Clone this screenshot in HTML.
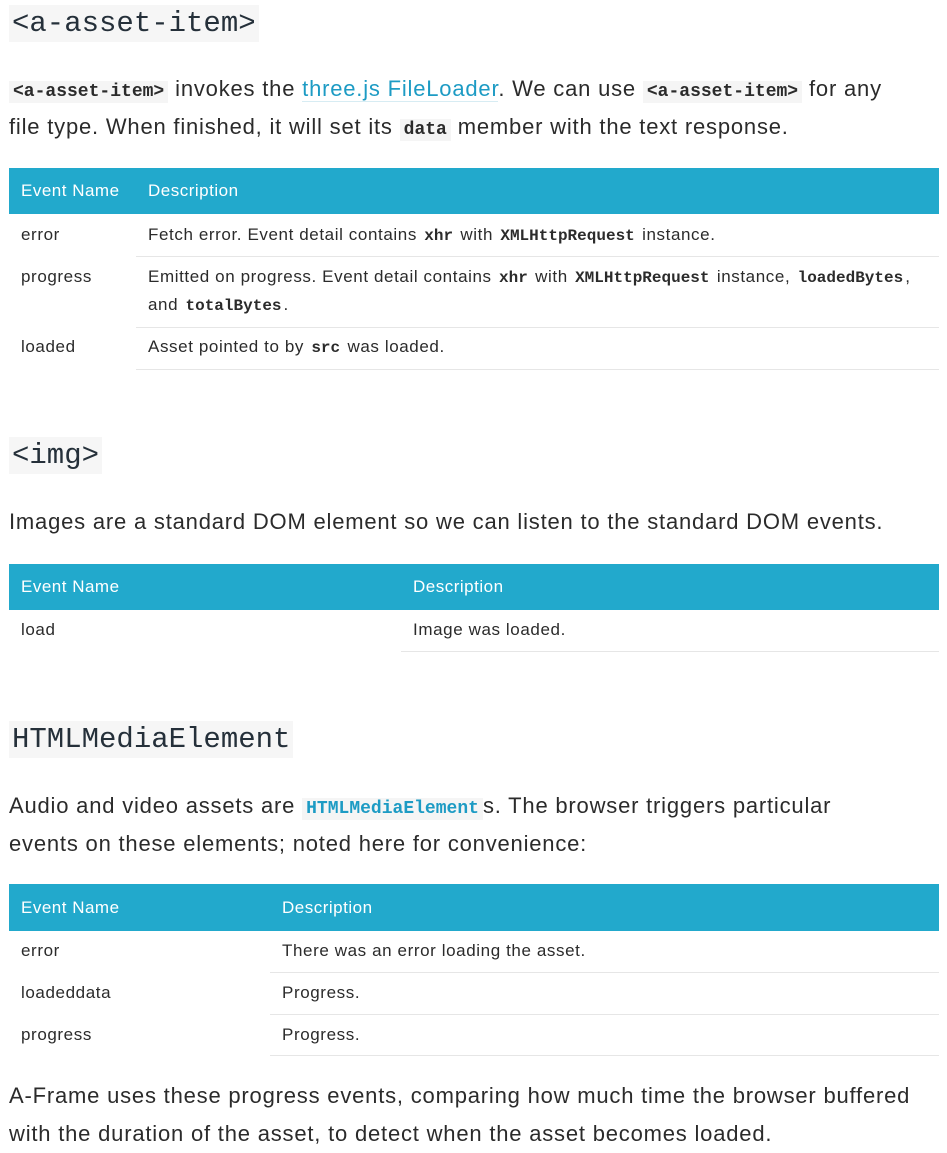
<!DOCTYPE html>
<html><head><meta charset="utf-8"><style>
body{margin:0;width:947px;height:1153px;background:#fff;position:relative;font-family:"Liberation Sans",sans-serif;color:#2b2b2b;overflow:hidden}
.a{position:absolute;white-space:nowrap}
.h{font-family:"Liberation Mono",monospace;font-size:29px;background:#f6f6f6;color:#25303a;padding:0 3px;line-height:37px;letter-spacing:0}
.p{font-size:22px;line-height:38px;letter-spacing:0.8px}
code{font-family:"Liberation Mono",monospace;font-weight:bold;background:#f5f5f5;padding:1px 4px;font-size:18px;letter-spacing:0}
.c code{font-size:16px;background:none;padding:0 2px}
.th{position:absolute;left:9px;width:930px;background:#22a9cc;color:#fff;font-size:17px;letter-spacing:0.5px}
.c{position:absolute;font-size:17px;white-space:nowrap;letter-spacing:0.6px}
.ln{position:absolute;height:1px;background:#e6e6e6}
a{color:#1d9bc4;text-decoration:none;border-bottom:1px solid #d7ecf3}
</style></head><body>
<div class="a h" style="left:9px;top:5px">&lt;a-asset-item&gt;</div>
<div class="a p" style="left:9px;top:70px"><code>&lt;a-asset-item&gt;</code> invokes the <a>three.js FileLoader</a>. We can use <code>&lt;a-asset-item&gt;</code> for any</div>
<div class="a p" style="left:9px;top:108px">file type. When finished, it will set its <code>data</code> member with the text response.</div>
<div class="th" style="top:168px;height:46px"><span class="a" style="left:12px;top:13px">Event Name</span><span class="a" style="left:139px;top:13px">Description</span></div>
<div class="c" style="left:21px;top:225px">error</div>
<div class="c" style="left:148px;top:225px">Fetch error. Event detail contains <code>xhr</code> with <code>XMLHttpRequest</code> instance.</div>
<div class="ln" style="left:136px;width:803px;top:256px"></div>
<div class="c" style="left:21px;top:267px">progress</div>
<div class="c" style="left:148px;top:267px">Emitted on progress. Event detail contains <code>xhr</code> with <code>XMLHttpRequest</code> instance, <code>loadedBytes</code>,</div>
<div class="c" style="left:148px;top:295px">and <code>totalBytes</code>.</div>
<div class="ln" style="left:136px;width:803px;top:327px"></div>
<div class="c" style="left:21px;top:337px">loaded</div>
<div class="c" style="left:148px;top:337px">Asset pointed to by <code>src</code> was loaded.</div>
<div class="ln" style="left:136px;width:803px;top:369px"></div>

<div class="a h" style="left:9px;top:437px">&lt;img&gt;</div>
<div class="a p" style="left:9px;top:503px">Images are a standard DOM element so we can listen to the standard DOM events.</div>
<div class="th" style="top:564px;height:46px"><span class="a" style="left:12px;top:13px">Event Name</span><span class="a" style="left:404px;top:13px">Description</span></div>
<div class="c" style="left:21px;top:620px">load</div>
<div class="c" style="left:413px;top:620px">Image was loaded.</div>
<div class="ln" style="left:401px;width:538px;top:651px"></div>

<div class="a h" style="left:9px;top:721px">HTMLMediaElement</div>
<div class="a p" style="left:9px;top:787px">Audio and video assets are <code style="color:#1d9bc4">HTMLMediaElement</code>s. The browser triggers particular</div>
<div class="a p" style="left:9px;top:825px">events on these elements; noted here for convenience:</div>
<div class="th" style="top:884px;height:47px"><span class="a" style="left:12px;top:14px">Event Name</span><span class="a" style="left:273px;top:14px">Description</span></div>
<div class="c" style="left:21px;top:941px">error</div>
<div class="c" style="left:282px;top:941px">There was an error loading the asset.</div>
<div class="ln" style="left:270px;width:669px;top:972px"></div>
<div class="c" style="left:21px;top:983px">loadeddata</div>
<div class="c" style="left:282px;top:983px">Progress.</div>
<div class="ln" style="left:270px;width:669px;top:1014px"></div>
<div class="c" style="left:21px;top:1025px">progress</div>
<div class="c" style="left:282px;top:1025px">Progress.</div>
<div class="ln" style="left:270px;width:669px;top:1055px"></div>
<div class="a p" style="left:9px;top:1077px">A-Frame uses these progress events, comparing how much time the browser buffered</div>
<div class="a p" style="left:9px;top:1115px">with the duration of the asset, to detect when the asset becomes loaded.</div>
</body></html>
